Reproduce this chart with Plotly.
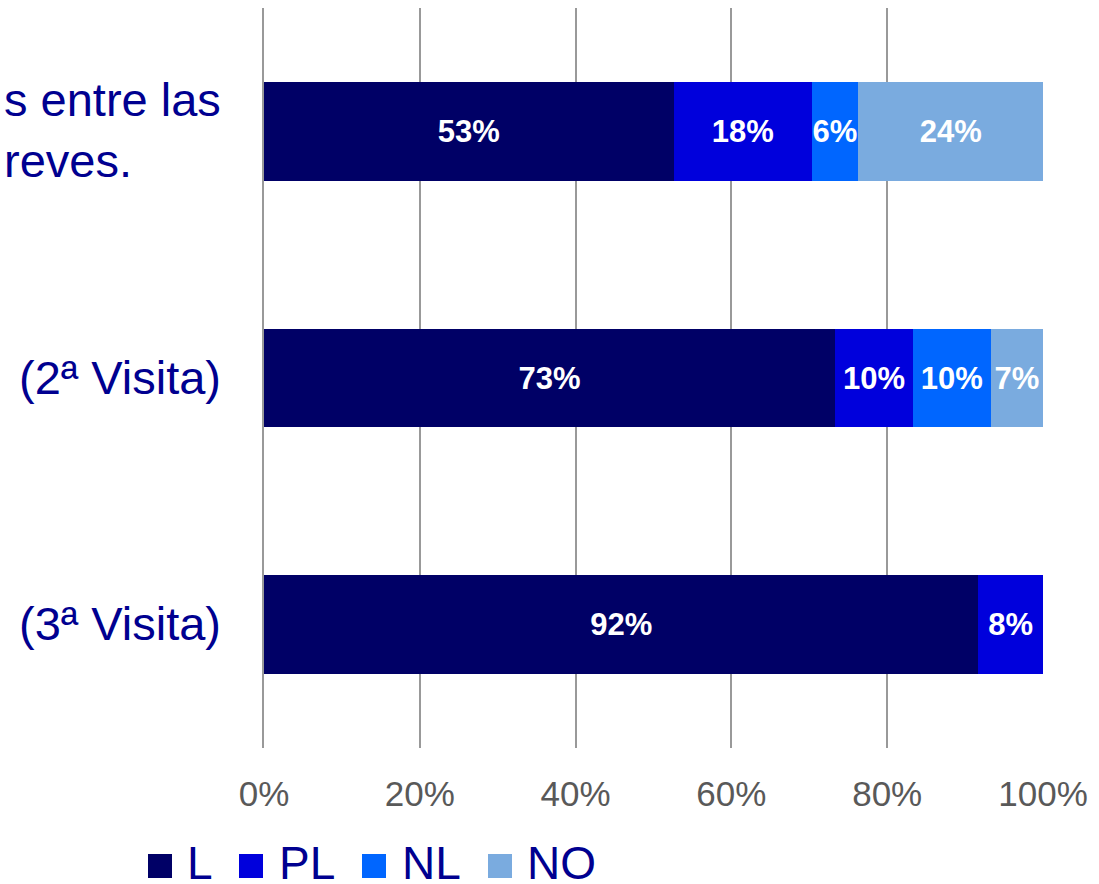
import plotly.graph_objects as go

# ---- data ----
categories = ["s entre las<br>reves.", "(2ª Visita)", "(3ª Visita)"]
series_names = ["L", "PL", "NL", "NO"]
val_L = [52.6, 73.3, 91.7]
val_PL = [17.7, 10.0, 8.3]
val_NL = [6.0, 10.0, None]
val_NO = [23.7, 6.7, None]
x_ticks = [0, 20, 40, 60, 80, 100]
x_ticklabels = ["0%", "20%", "40%", "60%", "80%", "100%"]

colors = ["#000066", "#0000DC", "#0066FF", "#7AABDF"]
series_vals = [val_L, val_PL, val_NL, val_NO]

W, H = 1099, 884
ML, MR, MT, MB = 264, 56, 8, 136
FONT = "Arial, Liberation Sans, sans-serif"
NAVY = "#000090"

fig = go.Figure()
for name, vals, col in zip(series_names, series_vals, colors):
    fig.add_trace(go.Bar(
        y=list(range(len(categories))), x=vals, name=name, orientation="h",
        marker=dict(color=col, line=dict(width=0)),
        width=0.4,
        texttemplate="%{x:.0f}%", textposition="inside", insidetextanchor="middle",
        textangle=0, textfont=dict(family=FONT, size=31, color="white", weight="bold"),
        showlegend=False, hoverinfo="skip",
    ))

def px2x(px):
    return (px - ML) / (W - ML - MR)

def py2y(py):
    return (H - MB - py) / (H - MT - MB)

annotations = []
# category labels
for i, cat in enumerate(categories):
    annotations.append(dict(
        x=0, xref="paper", y=i, yref="y", xanchor="right", yanchor="middle",
        xshift=-41, yshift=1, text=cat, align="left", showarrow=False,
        font=dict(family=FONT, size=47, color=NAVY),
    ))

# manual legend
shapes = []
sq_left = [148, 239, 362, 488]
txt_left = [185, 277, 400, 525]
for name, col, sx, tx in zip(series_names, colors, sq_left, txt_left):
    shapes.append(dict(type="rect", xref="paper", yref="paper",
                       x0=px2x(sx), x1=px2x(sx + 24), y0=py2y(878), y1=py2y(854),
                       fillcolor=col, line=dict(width=0)))
    annotations.append(dict(x=px2x(tx), xref="paper", y=py2y(863), yref="paper",
                            xanchor="left", yanchor="middle", text=name, showarrow=False,
                            font=dict(family=FONT, size=46, color=NAVY)))

fig.update_layout(
    width=W, height=H,
    margin=dict(l=ML, r=MR, t=MT, b=MB, pad=0),
    barmode="stack", bargap=0.6,
    plot_bgcolor="white", paper_bgcolor="white",
    uniformtext=dict(mode="show", minsize=31),
    xaxis=dict(range=[0, 100], tickvals=x_ticks, ticktext=x_ticklabels,
               showgrid=True, gridcolor="#999999", gridwidth=1.5,
               zeroline=False, showline=False, ticks="",
               tickfont=dict(family=FONT, size=35, color="#595959"),
               ticklabelstandoff=22, fixedrange=True),
    yaxis=dict(range=[2.5, -0.5], showticklabels=False, showgrid=False,
               zeroline=False, showline=True, linecolor="#999999", linewidth=1.5,
               ticks="", fixedrange=True),
    annotations=annotations, shapes=shapes,
    showlegend=False,
)

fig.write_html("out.html", config={"displayModeBar": False},
               post_script="document.body.style.margin='0';document.body.style.overflow='hidden';")
